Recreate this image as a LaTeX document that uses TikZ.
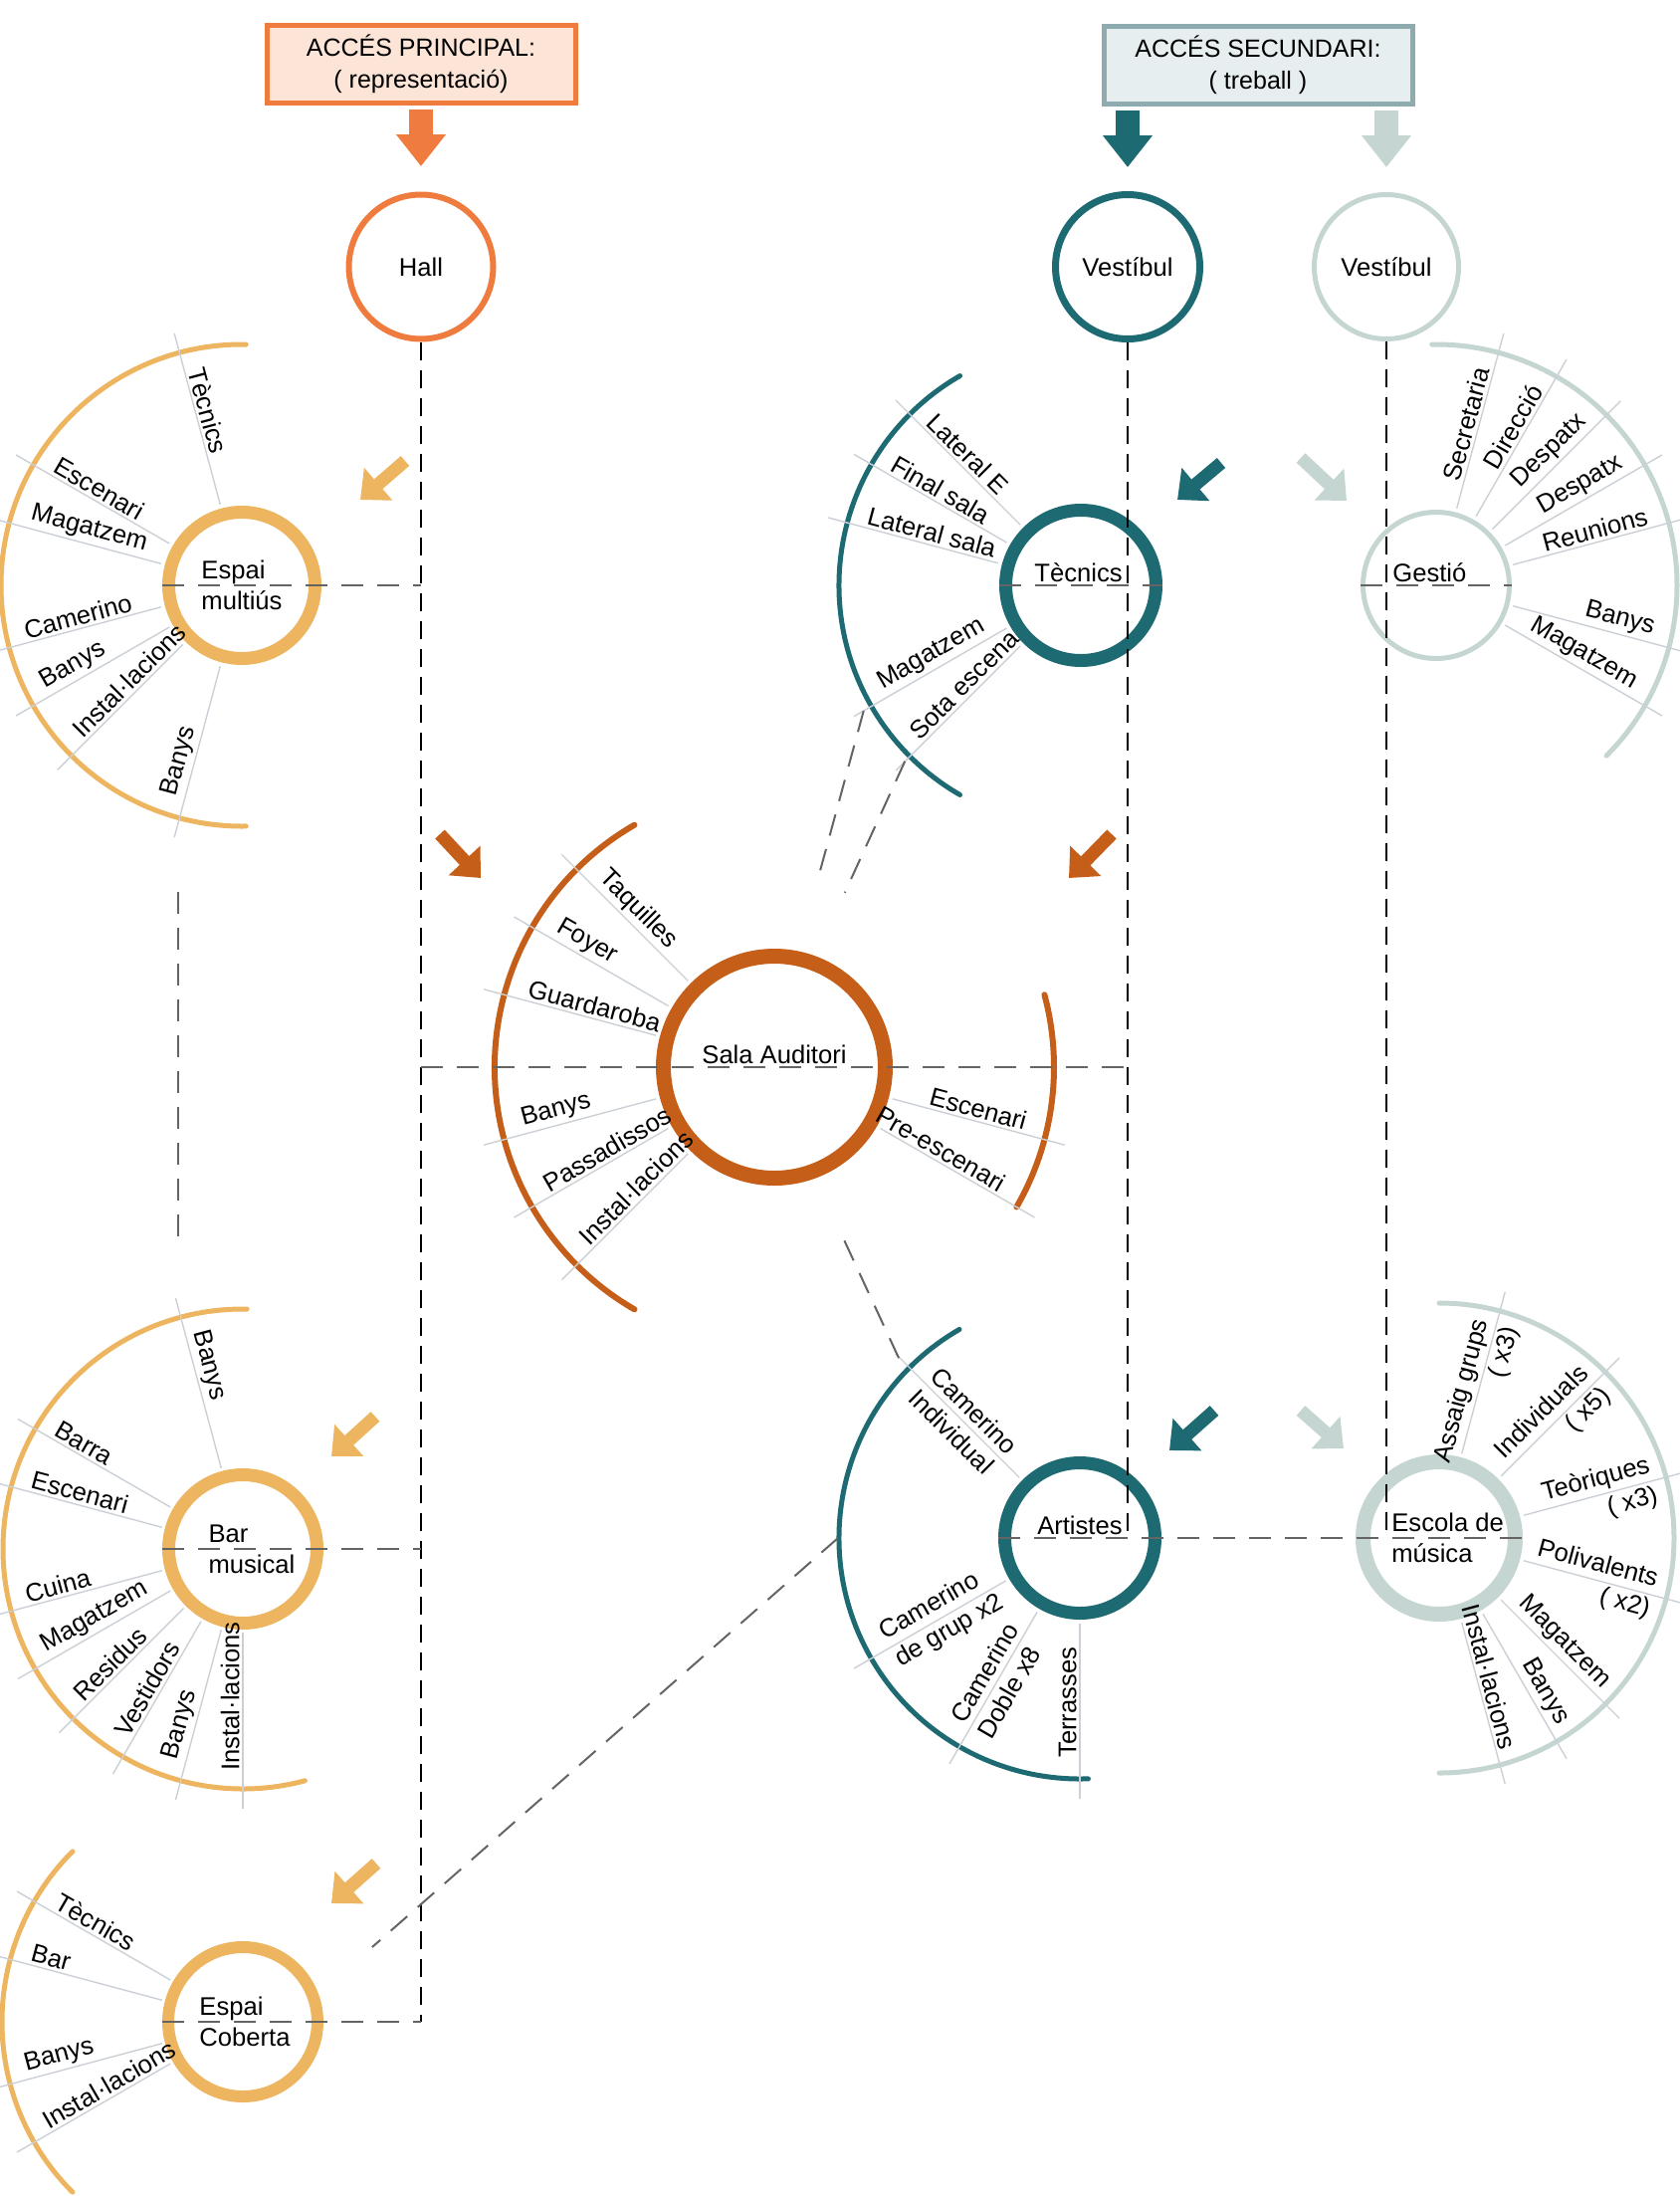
\documentclass[tikz,border=0pt]{standalone}
\usepackage{fontspec}
\setmainfont{Liberation Sans}
\usetikzlibrary{arrows.meta,calc}
\pgfdeclarelayer{fons}
\pgfsetlayers{fons,main}

\definecolor{taronja}{RGB}{240,123,63}
\definecolor{taronjaclar}{RGB}{252,228,214}
\definecolor{daurat}{RGB}{237,181,96}
\definecolor{terracota}{RGB}{196,94,24}
\definecolor{verdfosc}{RGB}{29,106,114}
\definecolor{verdclar}{RGB}{197,214,210}
\definecolor{vora}{RGB}{142,172,175}
\definecolor{fonsgris}{RGB}{231,238,240}
\definecolor{radi}{RGB}{202,208,214}
\definecolor{guio}{RGB}{100,100,100}

\tikzset{
  every node/.style={font=\fontsize{12.8}{15.5}\selectfont, inner sep=1.5pt},
  ring/.style={circle, draw=#1, inner sep=0pt},
  arcline/.style={line width=2.5pt, line cap=round, draw=#1},
  spoke/.style={draw=radi, line width=0.7pt},
  principal/.style={draw=black, line width=1.4pt, dash pattern=on 9pt off 5pt},
  branca/.style={draw=guio, line width=1pt, dash pattern=on 11pt off 7pt},
  flet/.style={line width=6.5pt, -{Triangle[length=12pt,width=21pt]}, draw=#1},
  fletgran/.style={line width=12pt, -{Triangle[length=16pt,width=24pt]}, draw=#1},
  caixa/.style={draw=#1, line width=2.5pt, minimum width=155pt, minimum height=39pt,
    align=center, font=\fontsize{12.5}{16}\selectfont}
}

\begin{document}
\begin{tikzpicture}[x=0.5pt, y=0.5pt]
\useasboundingbox (0,0) rectangle (1687,-2206);

% accessos
\node[caixa=taronja, fill=taronjaclar] (princ) at (423,-64.5) {ACCÉS PRINCIPAL:\\( representació)};
\node[caixa=vora, fill=fonsgris] (secund) at (1264,-65.5) {ACCÉS SECUNDARI:\\( treball )};

\node[ring=taronja, minimum size=72.5pt, line width=3pt] (hall) at (423,-268) {Hall};
\node[ring=verdfosc, minimum size=72.5pt, line width=3.5pt] (vest1) at (1133,-268) {Vestíbul};
\node[ring=verdclar, minimum size=72.5pt, line width=2.5pt] (vest2) at (1393,-268) {Vestíbul};

\draw[fletgran=taronja] (princ.south) ++(0,-4) -- ++(0,-57);
\draw[fletgran=verdfosc] (vest1 |- secund.south) ++(0,-4) -- ++(0,-57);
\draw[fletgran=verdclar] (vest2 |- secund.south) ++(0,-4) -- ++(0,-57);

% espais
\node[ring=daurat, minimum size=73.5pt, line width=6.5pt] (multius) at (243,-588) {};
\node[ring=verdfosc, minimum size=75.5pt, line width=6.5pt] (tecnics) at (1086,-588) {};
\node[ring=verdclar, minimum size=73.5pt, line width=2.5pt] (gestio) at (1443,-588) {};
\node[ring=terracota, minimum size=111.5pt, line width=7.5pt] (sala) at (778,-1072) {};
\node[ring=daurat, minimum size=74.5pt, line width=6.5pt] (bar) at (244,-1556) {};
\node[ring=verdfosc, minimum size=75.5pt, line width=6.5pt] (artistes) at (1085,-1545) {};
\node[ring=verdclar, minimum size=76.5pt, line width=7.5pt] (escola) at (1446,-1545) {};
\node[ring=daurat, minimum size=75pt, line width=6pt] (coberta) at (244,-2031) {};

\node[align=left] (multius-t) at (multius.center) {Espai\\multiús};
\node[anchor=south east] (tecnics-t) at (1131,-588) {Tècnics};
\node[anchor=south west] (gestio-t) at (1396,-588) {Gestió};
\node[anchor=south] (sala-t) at (sala.center) {Sala Auditori};
\node[align=left] (bar-t) at (253,-1556) {Bar\\musical};
\node[anchor=south east] (artistes-t) at (1131,-1545) {Artistes};
\node[anchor=west, align=left] (escola-t) at (1395,-1545) {Escola de\\música};
\node[align=left] (coberta-t) at (246,-2031) {Espai\\Coberta};

% recorreguts
\coordinate (h1) at (423,-588);
\coordinate (h2) at (423,-1072);
\coordinate (h3) at (423,-1556);
\coordinate (h4) at (423,-2031);
\coordinate (v1) at (1133,-1072);
\coordinate (v2) at (1133,-1545);
\coordinate (v3) at (1393,-1545);

\draw[principal] (hall) -- (h4);
\draw[principal] (vest1) -- (v2);
\draw[principal] (vest2) -- (v3);

\draw[branca] (multius.west) -- (h1);
\draw[branca] (bar.west) -- (h3);
\draw[branca] (coberta.west) -- (h4);
\draw[branca] (h2) -- (v1);
\draw[branca] (tecnics.west) -- (tecnics.east);
\draw[branca] (gestio.west) -- (gestio.east);
\draw[branca] (artistes.west) -- (escola.east);

% relacions
\coordinate (t1) at ($(tecnics.center)+(210:252)$);
\coordinate (t2) at ($(tecnics.center)+(225:250)$);
\coordinate (s1) at ($(sala.center)+(77:190)$);
\coordinate (s2) at ($(sala.center)+(68:189)$);
\coordinate (s3) at ($(sala.center)+(-68:188)$);
\coordinate (a1) at ($(artistes.center)+(136:247)$);
\coordinate (a2) at ($(artistes.center)+(180:243)$);
\coordinate (c1) at ($(coberta.center)+(30:150)$);
\coordinate (m1) at (179,-896);
\coordinate (b1) at (179,-1248);
\draw[branca] (t1) -- (s1);
\draw[branca] (t2) -- (s2);
\draw[branca] (s3) -- (a1);
\draw[branca] (a2) -- (c1);
\draw[branca] (m1) -- (b1);

% fletxes
\draw[flet=daurat] (407,-463) -- (362,-502);
\draw[flet=daurat] (377,-1423) -- (333,-1463);
\draw[flet=daurat] (378,-1872) -- (333,-1912);
\draw[flet=terracota] (442,-838) -- (483,-882);
\draw[flet=terracota] (1117,-838) -- (1074,-882);
\draw[flet=verdfosc] (1227,-465) -- (1183,-502);
\draw[flet=verdfosc] (1220,-1417) -- (1175,-1457);
\draw[flet=verdclar] (1307,-460) -- (1353,-503);
\draw[flet=verdclar] (1307,-1417) -- (1350,-1455);

% Espai multiús
\begin{pgfonlayer}{fons}
\draw[arcline=daurat] ($(multius.center)+(89:242)$) arc[start angle=89, end angle=271, radius=242];
\end{pgfonlayer}
\foreach \a/\t [count=\i] in {105/Tècnics,150/Escenari,165/Magatzem,195/Camerino,210/Banys,225/Instal·lacions,255/Banys}{
  \begin{pgfonlayer}{fons}\draw[spoke] ($(multius.center)+(\a:84)$) -- ($(multius.center)+(\a:262)$);\end{pgfonlayer}
  \node[rotate=\a-180, anchor=south west] (multius-\i) at ($(multius.center)+(\a:226)$) {\t};
}
% Bar musical
\begin{pgfonlayer}{fons}
\draw[arcline=daurat] ($(bar.center)+(89:241)$) arc[start angle=89, end angle=285, radius=241];
\end{pgfonlayer}
\foreach \a/\t [count=\i] in {105/Banys,150/Barra,165/Escenari,195/Cuina,210/Magatzem,225/Residus,240/Vestidors,255/Banys,270/Instal·lacions}{
  \begin{pgfonlayer}{fons}\draw[spoke] ($(bar.center)+(\a:84)$) -- ($(bar.center)+(\a:261)$);\end{pgfonlayer}
  \node[rotate=\a-180, anchor=south west] (bar-\i) at ($(bar.center)+(\a:226)$) {\t};
}
% Espai Coberta
\begin{pgfonlayer}{fons}
\draw[arcline=daurat] ($(coberta.center)+(135:242)$) arc[start angle=135, end angle=225, radius=242];
\end{pgfonlayer}
\foreach \a/\t [count=\i] in {150/Tècnics,165/Bar,195/Banys,210/Instal·lacions}{
  \begin{pgfonlayer}{fons}\draw[spoke] ($(coberta.center)+(\a:84)$) -- ($(coberta.center)+(\a:262)$);\end{pgfonlayer}
  \node[rotate=\a-180, anchor=south west] (coberta-\i) at ($(coberta.center)+(\a:226)$) {\t};
}
% Sala Auditori
\begin{pgfonlayer}{fons}
\draw[arcline=terracota, line width=3pt] ($(sala.center)+(120:281)$) arc[start angle=120, end angle=240, radius=281];
\draw[arcline=terracota, line width=3pt] ($(sala.center)+(-30:281)$) arc[start angle=-30, end angle=15, radius=281];
\end{pgfonlayer}
\foreach \a/\t [count=\i] in {135/Taquilles,150/Foyer,165/Guardaroba,195/Banys,210/Passadissos,225/Instal·lacions}{
  \begin{pgfonlayer}{fons}\draw[spoke] ($(sala.center)+(\a:123)$) -- ($(sala.center)+(\a:302)$);\end{pgfonlayer}
  \node[rotate=\a-180, anchor=south west] (sala-\i) at ($(sala.center)+(\a:262)$) {\t};
}
\foreach \a/\t [count=\i from 7] in {-15/Escenari,-30/Pre-escenari}{
  \begin{pgfonlayer}{fons}\draw[spoke] ($(sala.center)+(\a:123)$) -- ($(sala.center)+(\a:302)$);\end{pgfonlayer}
  \node[rotate=\a, anchor=south east] (sala-\i) at ($(sala.center)+(\a:262)$) {\t};
}
% Tècnics
\begin{pgfonlayer}{fons}
\draw[arcline=verdfosc] ($(tecnics.center)+(120:243)$) arc[start angle=120, end angle=240, radius=243];
\draw[spoke] ($(tecnics.center)+(225:86)$) -- ($(tecnics.center)+(225:263)$);
\node[rotate=45, anchor=south west] (tecnics-5) at ($(tecnics.center)+(225:228)$) {Sota escenari};
\end{pgfonlayer}
\foreach \a/\t [count=\i] in {135/Lateral E,150/Final sala,165/Lateral sala,210/Magatzem}{
  \begin{pgfonlayer}{fons}\draw[spoke] ($(tecnics.center)+(\a:86)$) -- ($(tecnics.center)+(\a:263)$);\end{pgfonlayer}
  \node[rotate=\a-180, anchor=south west] (tecnics-\i) at ($(tecnics.center)+(\a:228)$) {\t};
}
% Gestió
\begin{pgfonlayer}{fons}
\draw[arcline=verdclar] ($(gestio.center)+(-45:242)$) arc[start angle=-45, end angle=91, radius=242];
\end{pgfonlayer}
\foreach \a/\t [count=\i] in {75/Secretaria,60/Direcció,45/Despatx,30/Despatx,15/Reunions,-15/Banys,-30/Magatzem}{
  \begin{pgfonlayer}{fons}\draw[spoke] ($(gestio.center)+(\a:80)$) -- ($(gestio.center)+(\a:262)$);\end{pgfonlayer}
  \node[rotate=\a, anchor=south east] (gestio-\i) at ($(gestio.center)+(\a:226)$) {\t};
}
% Artistes
\begin{pgfonlayer}{fons}
\draw[arcline=verdfosc] ($(artistes.center)+(120:242)$) arc[start angle=120, end angle=272, radius=242];
\draw[spoke] ($(artistes.center)+(270:86)$) -- ($(artistes.center)+(270:262)$);
\end{pgfonlayer}
\foreach \a/\t [count=\i] in {135/{Camerino\\Individual},210/{Camerino\\de grup x2},240/{Camerino\\Doble x8}}{
  \begin{pgfonlayer}{fons}\draw[spoke] ($(artistes.center)+(\a:86)$) -- ($(artistes.center)+(\a:262)$);\end{pgfonlayer}
  \node[rotate=\a-180, anchor=west, align=left] (artistes-\i) at ($(artistes.center)+(\a:224)$) {\t};
}
\node[rotate=90, anchor=south west] (artistes-4) at ($(artistes.center)+(270:224)$) {Terrasses};
% Escola de música
\begin{pgfonlayer}{fons}
\draw[arcline=verdclar] ($(escola.center)+(-90:236)$) arc[start angle=-90, end angle=90, radius=236];
\end{pgfonlayer}
\foreach \a/\t [count=\i] in {75/{Assaig grups\\( x3)},45/{Individuals\\( x5)},15/{Teòriques\\( x3)},-15/{Polivalents\\( x2)}}{
  \begin{pgfonlayer}{fons}\draw[spoke] ($(escola.center)+(\a:88)$) -- ($(escola.center)+(\a:256)$);\end{pgfonlayer}
  \node[rotate=\a, anchor=east, align=right] (escola-\i) at ($(escola.center)+(\a:226)$) {\t};
}
\foreach \a/\t [count=\i from 5] in {-45/Magatzem,-60/Banys,-75/Instal·lacions}{
  \begin{pgfonlayer}{fons}\draw[spoke] ($(escola.center)+(\a:88)$) -- ($(escola.center)+(\a:256)$);\end{pgfonlayer}
  \node[rotate=\a, anchor=south east] (escola-\i) at ($(escola.center)+(\a:226)$) {\t};
}
\end{tikzpicture}
\end{document}
